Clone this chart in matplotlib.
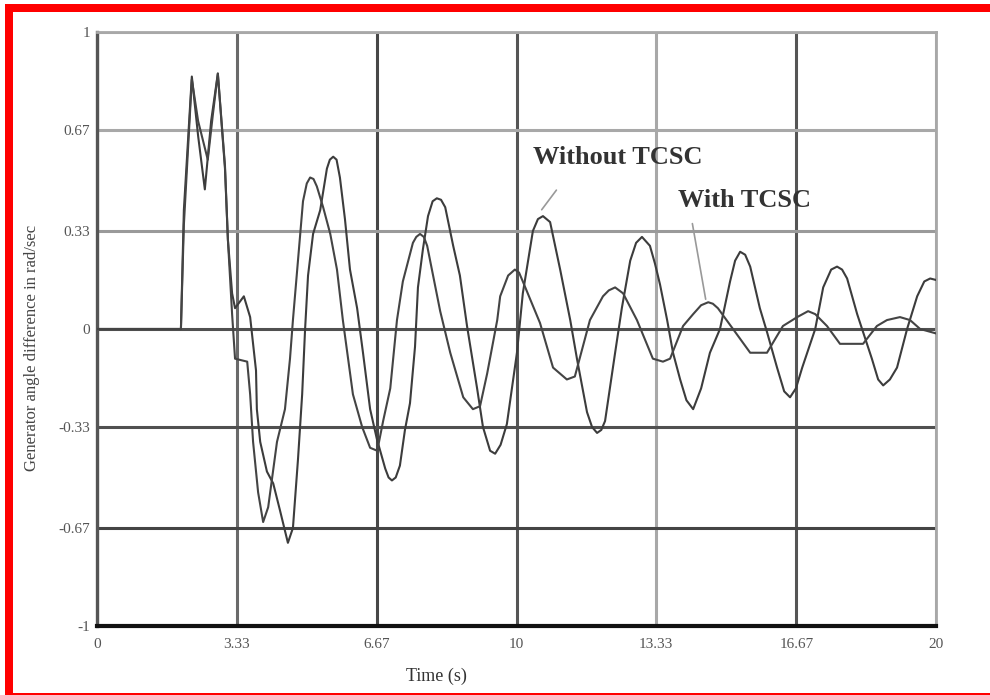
import matplotlib
matplotlib.use('Agg')

import matplotlib.pyplot as plt
from matplotlib.patches import Rectangle

# curve: without TCSC (the less damped one)
t_without = [0.00, 2.00, 2.07, 2.26, 2.41, 2.57, 2.72, 2.88, 3.05, 3.12, 3.22, 3.29,
             3.50, 3.65, 3.72, 3.79, 3.81, 3.89, 4.05, 4.20, 4.36, 4.55, 4.67, 4.79,
             4.89, 4.96, 5.03, 5.15, 5.32, 5.48, 5.55, 5.63, 5.71, 5.79, 5.91, 6.03,
             6.20, 6.34, 6.51, 6.67, 6.87, 6.95, 7.03, 7.12, 7.22, 7.34, 7.46, 7.58,
             7.65, 7.77, 7.89, 8.00, 8.10, 8.20, 8.30, 8.49, 8.65, 8.82, 9.06, 9.20,
             9.37, 9.49, 9.62, 9.77, 10.01, 10.15, 10.39, 10.51, 10.63, 10.80, 11.04,
             11.28, 11.44, 11.68, 11.80, 11.92, 12.02, 12.11, 12.35, 12.51, 12.71, 12.85,
             12.99, 13.18, 13.30, 13.42, 13.59, 13.73, 13.90, 14.05, 14.21, 14.40, 14.61,
             14.85, 15.09, 15.21, 15.33, 15.45, 15.57, 15.80, 15.97, 16.21, 16.38, 16.52,
             16.66, 16.81, 17.12, 17.31, 17.50, 17.64, 17.76, 17.88, 18.12, 18.26, 18.47,
             18.62, 18.74, 18.90, 19.07, 19.31, 19.55, 19.72, 19.86, 20.00]
v_without = [0.00, 0.00, 0.40, 0.85, 0.65, 0.47, 0.70, 0.86, 0.54, 0.30, 0.12, 0.07,
             0.11, 0.04, -0.05, -0.14, -0.27, -0.38, -0.48, -0.52, -0.61, -0.72, -0.67, -0.44,
             -0.22, 0.00, 0.18, 0.32, 0.40, 0.54, 0.57, 0.58, 0.57, 0.51, 0.37, 0.20,
             0.07, -0.08, -0.27, -0.37, -0.47, -0.50, -0.51, -0.50, -0.46, -0.34, -0.25, -0.06,
             0.14, 0.27, 0.38, 0.43, 0.44, 0.435, 0.41, 0.28, 0.18, 0.01, -0.20, -0.33,
             -0.41, -0.42, -0.39, -0.32, -0.08, 0.12, 0.33, 0.37, 0.38, 0.36, 0.20,
             0.03, -0.10, -0.28, -0.33, -0.35, -0.34, -0.31, -0.08, 0.07, 0.23, 0.29,
             0.31, 0.28, 0.22, 0.15, 0.03, -0.08, -0.17, -0.24, -0.27, -0.20, -0.08,
             0.00, 0.16, 0.23, 0.26, 0.25, 0.21, 0.07, -0.01, -0.13, -0.21, -0.23,
             -0.20, -0.13, 0.00, 0.14, 0.20, 0.21, 0.20, 0.17, 0.05, -0.01, -0.10,
             -0.17, -0.19, -0.17, -0.13, 0.00, 0.11, 0.16, 0.17, 0.165]

# curve with TCSC (damped)
t_with = [0.00, 2.00, 2.07, 2.26, 2.41, 2.64, 2.76, 2.88, 3.05, 3.12, 3.22, 3.29,
          3.58, 3.65, 3.72, 3.84, 3.96, 4.08, 4.29, 4.48, 4.60, 4.67, 4.79, 4.91,
          5.00, 5.08, 5.16, 5.24, 5.39, 5.56, 5.72, 5.86, 6.10, 6.32, 6.51, 6.68, 6.82,
          6.99, 7.15, 7.29, 7.53, 7.61, 7.70, 7.79, 7.87, 8.18, 8.42, 8.73, 8.96, 9.13,
          9.30, 9.54, 9.61, 9.80, 9.96, 10.06, 10.15, 10.56, 10.87, 11.20, 11.39, 11.75,
          12.06, 12.20, 12.35, 12.54, 12.87, 13.25, 13.49, 13.66, 13.97, 14.21, 14.40,
          14.57, 14.68, 14.80, 15.16, 15.57, 15.97, 16.35, 16.69, 16.95, 17.12, 17.40,
          17.71, 18.26, 18.59, 18.83, 19.14, 19.38, 19.62, 20.00]
v_with = [0.00, 0.00, 0.35, 0.84, 0.70, 0.57, 0.72, 0.86, 0.55, 0.30, 0.05, -0.10,
          -0.11, -0.22, -0.38, -0.55, -0.65, -0.60, -0.38, -0.27, -0.10, 0.03, 0.23, 0.43,
          0.49, 0.51, 0.505, 0.48, 0.41, 0.32, 0.20, 0.03, -0.22, -0.33, -0.40, -0.41, -0.31,
          -0.20, 0.03, 0.16, 0.29, 0.31, 0.32, 0.31, 0.28, 0.06, -0.08, -0.23, -0.27, -0.26,
          -0.15, 0.03, 0.11, 0.18, 0.20, 0.19, 0.16, 0.02, -0.13, -0.17, -0.16, 0.03,
          0.11, 0.13, 0.14, 0.12, 0.03, -0.10, -0.11, -0.10, 0.01, 0.05, 0.08,
          0.09, 0.085, 0.07, 0.00, -0.08, -0.08, 0.01, 0.04, 0.06, 0.05, 0.01,
          -0.05, -0.05, 0.01, 0.03, 0.04, 0.03, 0.00, -0.015]

x_ticks = [0, 3.33, 6.67, 10, 13.33, 16.67, 20]
x_tick_labels = ['0', '3.33', '6.67', '10', '13.33', '16.67', '20']
y_ticks = [-1, -0.67, -0.33, 0, 0.33, 0.67, 1]
y_tick_labels = ['-1', '-0.67', '-0.33', '0', '0.33', '0.67', '1']

serif = ['Liberation Serif', 'DejaVu Serif']

fig = plt.figure(figsize=(9.9, 6.95), dpi=100)
ax = fig.add_axes([0.098, 0.0993, 0.8475, 0.8547])

# red frame around the scan
fig.add_artist(Rectangle((0.005, 0.0), 0.008, 0.993, transform=fig.transFigure,
                         color='#ff0000', lw=0))
fig.add_artist(Rectangle((0.005, 0.9827), 0.995, 0.0115, transform=fig.transFigure,
                         color='#ff0000', lw=0))
fig.add_artist(Rectangle((0.005, 0.0), 0.995, 0.003, transform=fig.transFigure,
                         color='#ff0000', lw=0))

ax.set_xlim(0, 20)
ax.set_ylim(-1, 1)
ax.set_xticks(x_ticks)
ax.set_xticklabels(x_tick_labels)
ax.set_yticks(y_ticks)
ax.set_yticklabels(y_tick_labels)
ax.tick_params(length=0, labelsize=11, labelcolor='#555555')
ax.tick_params(axis='x', pad=9)
ax.tick_params(axis='y', pad=5)
for lab in ax.get_xticklabels() + ax.get_yticklabels():
    lab.set_family(serif)

# scanned grid: every line has its own shade
ax.grid(True, lw=2.2, zorder=1)
xgrid_colors = ['#555555', '#6a6a6a', '#474747', '#555555', '#a8a8a8', '#555555', '#a8a8a8']
ygrid_colors = ['#111111', '#444444', '#505050', '#505050', '#9a9a9a', '#a8a8a8', '#a8a8a8']
for gl, c in zip(ax.get_xgridlines(), xgrid_colors):
    gl.set_color(c)
for gl, c in zip(ax.get_ygridlines(), ygrid_colors):
    gl.set_color(c)
ax.set_axisbelow(True)

ax.spines['left'].set_color('#555555')
ax.spines['left'].set_linewidth(2.4)
ax.spines['bottom'].set_color('#111111')
ax.spines['bottom'].set_linewidth(3)
ax.spines['top'].set_color('#a8a8a8')
ax.spines['top'].set_linewidth(2)
ax.spines['right'].set_color('#a8a8a8')
ax.spines['right'].set_linewidth(2)

ax.plot(t_without, v_without, color='#3c3c3c', lw=1.5, zorder=3, solid_joinstyle='round')
ax.plot(t_with, v_with, color='#444444', lw=1.5, zorder=3, solid_joinstyle='round')

ax.text(10.39, 0.579, 'Without TCSC', fontsize=19, fontweight='bold', family=serif,
        color='#333333', ha='left', va='center')
ax.text(13.85, 0.434, 'With TCSC', fontsize=19, fontweight='bold', family=serif,
        color='#333333', ha='left', va='center')
ax.annotate('', xy=(10.56, 0.394), xytext=(10.99, 0.475),
            arrowprops=dict(arrowstyle='-', color='#999999', lw=1.2))
ax.annotate('', xy=(14.52, 0.091), xytext=(14.18, 0.364),
            arrowprops=dict(arrowstyle='-', color='#999999', lw=1.2))

ax.set_xlabel('Time (s)', fontsize=13, family=serif, color='#333333')
ax.xaxis.set_label_coords(0.405, -0.07)
ax.set_ylabel('Generator angle difference in rad/sec', fontsize=12, family=serif,
              color='#444444')
ax.yaxis.set_label_coords(-0.068, 0.468)

fig.savefig('out.png', dpi=100)
